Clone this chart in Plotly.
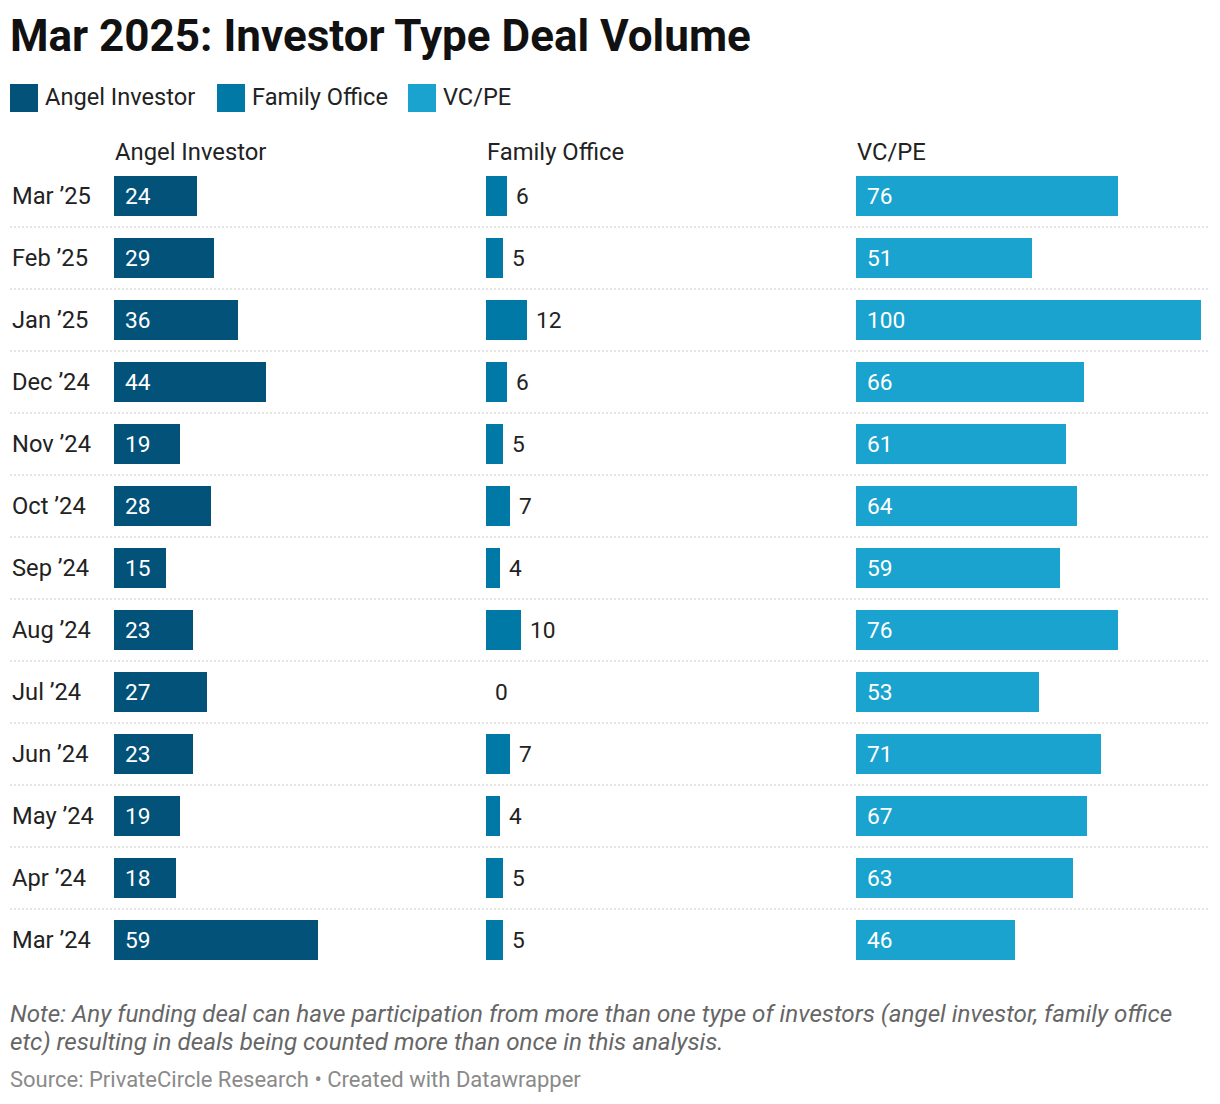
import plotly.graph_objects as go

months = ["Mar ’25", "Feb ’25", "Jan ’25", "Dec ’24", "Nov ’24", "Oct ’24", "Sep ’24",
          "Aug ’24", "Jul ’24", "Jun ’24", "May ’24", "Apr ’24", "Mar ’24"]
angel = [24, 29, 36, 44, 19, 28, 15, 23, 27, 23, 19, 18, 59]
family = [6, 5, 12, 6, 5, 7, 4, 10, 0, 7, 4, 5, 5]
vcpe = [76, 51, 100, 66, 61, 64, 59, 76, 53, 71, 67, 63, 46]
series_names = ["Angel Investor", "Family Office", "VC/PE"]
colors = ["#03527a", "#0179a6", "#1aa3cf"]

title = "Mar 2025: Investor Type Deal Volume"
note1 = "Note: Any funding deal can have participation from more than one type of investors (angel investor, family office"
note2 = "etc) resulting in deals being counted more than once in this analysis."
source = "Source: PrivateCircle Research • Created with Datawrapper"

W, H = 1220, 1104
OFF = 8  # page body margin
FONT = "Roboto"
PX_PER_UNIT = 3.45
col_left = [114, 486, 856]
col_w = 352
rng = [0, col_w / PX_PER_UNIT]
y_top, y_bot = 165, 971

def px(x):
    return (x - OFF) / W

def py(y):
    return 1 - (y - OFF) / H

fig = go.Figure()
all_vals = [angel, family, vcpe]
axes = ["x", "x2", "x3"]
for vals, name, col, ax in zip(all_vals, series_names, colors, axes):
    fig.add_trace(go.Bar(x=vals, y=months, orientation="h", name=name,
                         marker=dict(color=col, line=dict(width=0)),
                         width=0.645, xaxis=ax, yaxis="y", showlegend=False,
                         hoverinfo="x+y"))

layout_axes = {}
for i, ax in enumerate(["xaxis", "xaxis2", "xaxis3"]):
    layout_axes[ax] = dict(domain=[px(col_left[i]), px(col_left[i] + col_w)],
                           range=rng, showgrid=False, zeroline=False,
                           showticklabels=False, showline=False, anchor="y",
                           fixedrange=True)

fig.update_layout(
    width=W, height=H,
    margin=dict(l=0, r=0, t=0, b=0),
    paper_bgcolor="white", plot_bgcolor="white",
    font=dict(family=FONT, color="#222222", size=22),
    yaxis=dict(domain=[py(y_bot), py(y_top)], type="category",
               categoryorder="array", categoryarray=months,
               range=[len(months) - 0.5, -0.5],
               showticklabels=False, showgrid=False, zeroline=False, fixedrange=True),
    bargap=0,
    **layout_axes,
)

ann = []
shapes = []
# row labels
for m in months:
    ann.append(dict(x=px(12), y=m, xref="paper", yref="y", text=m, showarrow=False,
                    xanchor="left", yanchor="middle", xshift=-2,
                    font=dict(family=FONT, size=23.7, color="#222222")))
# value labels
for i, m in enumerate(months):
    ann.append(dict(x=0, y=m, xref="x", yref="y", text=str(angel[i]), showarrow=False,
                    xanchor="left", yanchor="middle", xshift=9,
                    font=dict(family=FONT, size=22.7, color="white")))
    ann.append(dict(x=family[i], y=m, xref="x2", yref="y", text=str(family[i]), showarrow=False,
                    xanchor="left", yanchor="middle", xshift=7,
                    font=dict(family=FONT, size=22.7, color="#222222")))
    ann.append(dict(x=0, y=m, xref="x3", yref="y", text=str(vcpe[i]), showarrow=False,
                    xanchor="left", yanchor="middle", xshift=9,
                    font=dict(family=FONT, size=22.7, color="white")))
# separators
for i in range(len(months) - 1):
    shapes.append(dict(type="line", xref="paper", yref="y", x0=px(10), x1=px(1208),
                       y0=i + 0.5, y1=i + 0.5,
                       line=dict(color="#cccccc", width=1.2, dash="2px,2px")))
# column headers
for i, name in enumerate(series_names):
    ann.append(dict(x=px(col_left[i]), y=py(152), xref="paper", yref="paper", text=name,
                    showarrow=False, xanchor="left", yanchor="middle", xshift=-1,
                    font=dict(family=FONT, size=23.8, color="#222222")))
# title
ann.append(dict(x=px(10), y=py(36), xref="paper", yref="paper", text="<b>" + title + "</b>",
                showarrow=False, xanchor="left", yanchor="middle", xshift=-2,
                font=dict(family=FONT, size=44, color="#111111")))
# legend
leg_sq_x = [10, 217, 408]
for i, name in enumerate(series_names):
    shapes.append(dict(type="rect", xref="paper", yref="paper",
                       x0=px(leg_sq_x[i]), x1=px(leg_sq_x[i] + 28),
                       y0=py(112), y1=py(84), fillcolor=colors[i], line=dict(width=0)))
    ann.append(dict(x=px(leg_sq_x[i] + 34), y=py(97), xref="paper", yref="paper", text=name,
                    showarrow=False, xanchor="left", yanchor="middle", xshift=-1,
                    font=dict(family=FONT, size=23.6, color="#222222")))
# notes
ann.append(dict(x=px(10), y=py(1014), xref="paper", yref="paper", text="<i>" + note1 + "</i>",
                showarrow=False, xanchor="left", yanchor="middle", xshift=-2,
                font=dict(family=FONT, size=24.2, color="#666666")))
ann.append(dict(x=px(10), y=py(1042), xref="paper", yref="paper", text="<i>" + note2 + "</i>",
                showarrow=False, xanchor="left", yanchor="middle", xshift=-2,
                font=dict(family=FONT, size=24.2, color="#666666")))
ann.append(dict(x=px(10), y=py(1079), xref="paper", yref="paper", text=source,
                showarrow=False, xanchor="left", yanchor="middle", xshift=-2,
                font=dict(family=FONT, size=22, color="#8a8a8a")))

fig.update_layout(annotations=ann, shapes=shapes)
fig.write_html("out.html")
